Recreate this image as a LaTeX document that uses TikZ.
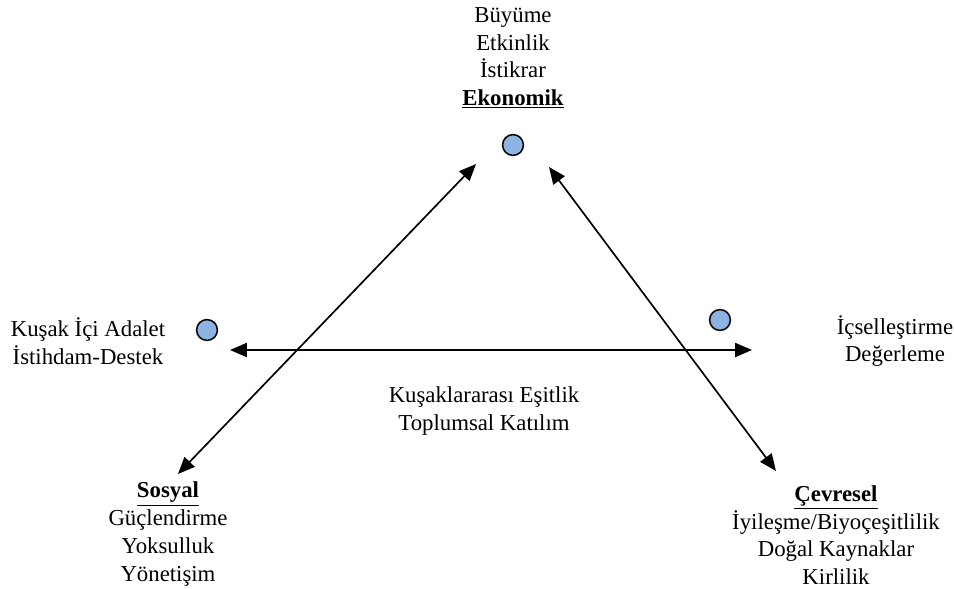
\documentclass[tikz,border=0pt]{standalone}
\usepackage{fontspec}
\setmainfont{Liberation Serif}
\usetikzlibrary{arrows.meta}
\definecolor{dotblue}{RGB}{141,179,226}

\begin{document}
\begin{tikzpicture}[x=0.025cm, y=-0.025cm,
      dot/.style={circle, draw, line width=1.1pt, fill=dotblue, minimum size=0.52cm, inner sep=0pt},
      txt/.style={align=center, inner sep=0pt, font=\fontsize{16.2}{19.7}\selectfont},
      link/.style={{Triangle[length=12pt,width=10pt]}-{Triangle[length=12pt,width=10pt]}, line width=1.2pt}]

      \useasboundingbox (0,0) rectangle (954,588);

      \node[dot] (eko) at (513,145) {};
      \node[dot] (sos) at (207,330) {};
      \node[dot] (cev) at (720,320) {};

      \node[txt] (ekotxt) at (513,58) {Büyüme\\Etkinlik\\İstikrar\\\underline{\textbf{Ekonomik}}};
      \node[txt] (sostxt) at (168,534) {\underline{\textbf{Sosyal}}\\Güçlendirme\\Yoksulluk\\Yönetişim};
      \node[txt] (cevtxt) at (836,535) {\underline{\textbf{Çevresel}}\\İyileşme/Biyoçeşitlilik\\Doğal Kaynaklar\\Kirlilik};

      % Arrows
      \coordinate (a1) at (178,474);
      \coordinate (a2) at (476,164);
      \coordinate (b1) at (549,167);
      \coordinate (b2) at (776,471);
      \coordinate (c1) at (230,350);
      \coordinate (c2) at (752,350);
      \draw[link] (a1) -- (a2);
      \draw[link] (b1) -- (b2);
      \draw[link] (c1) -- (c2);

      % Annotations
      \node[txt] (left) at (88,341) {Kuşak İçi Adalet\\İstihdam-Destek};
      \node[txt] (right) at (895,341) {İçselleştirme\\Değerleme};
      \node[txt] (mid) at (484,411) {Kuşaklararası Eşitlik\\Toplumsal Katılım};
    \end{tikzpicture}
\end{document}
